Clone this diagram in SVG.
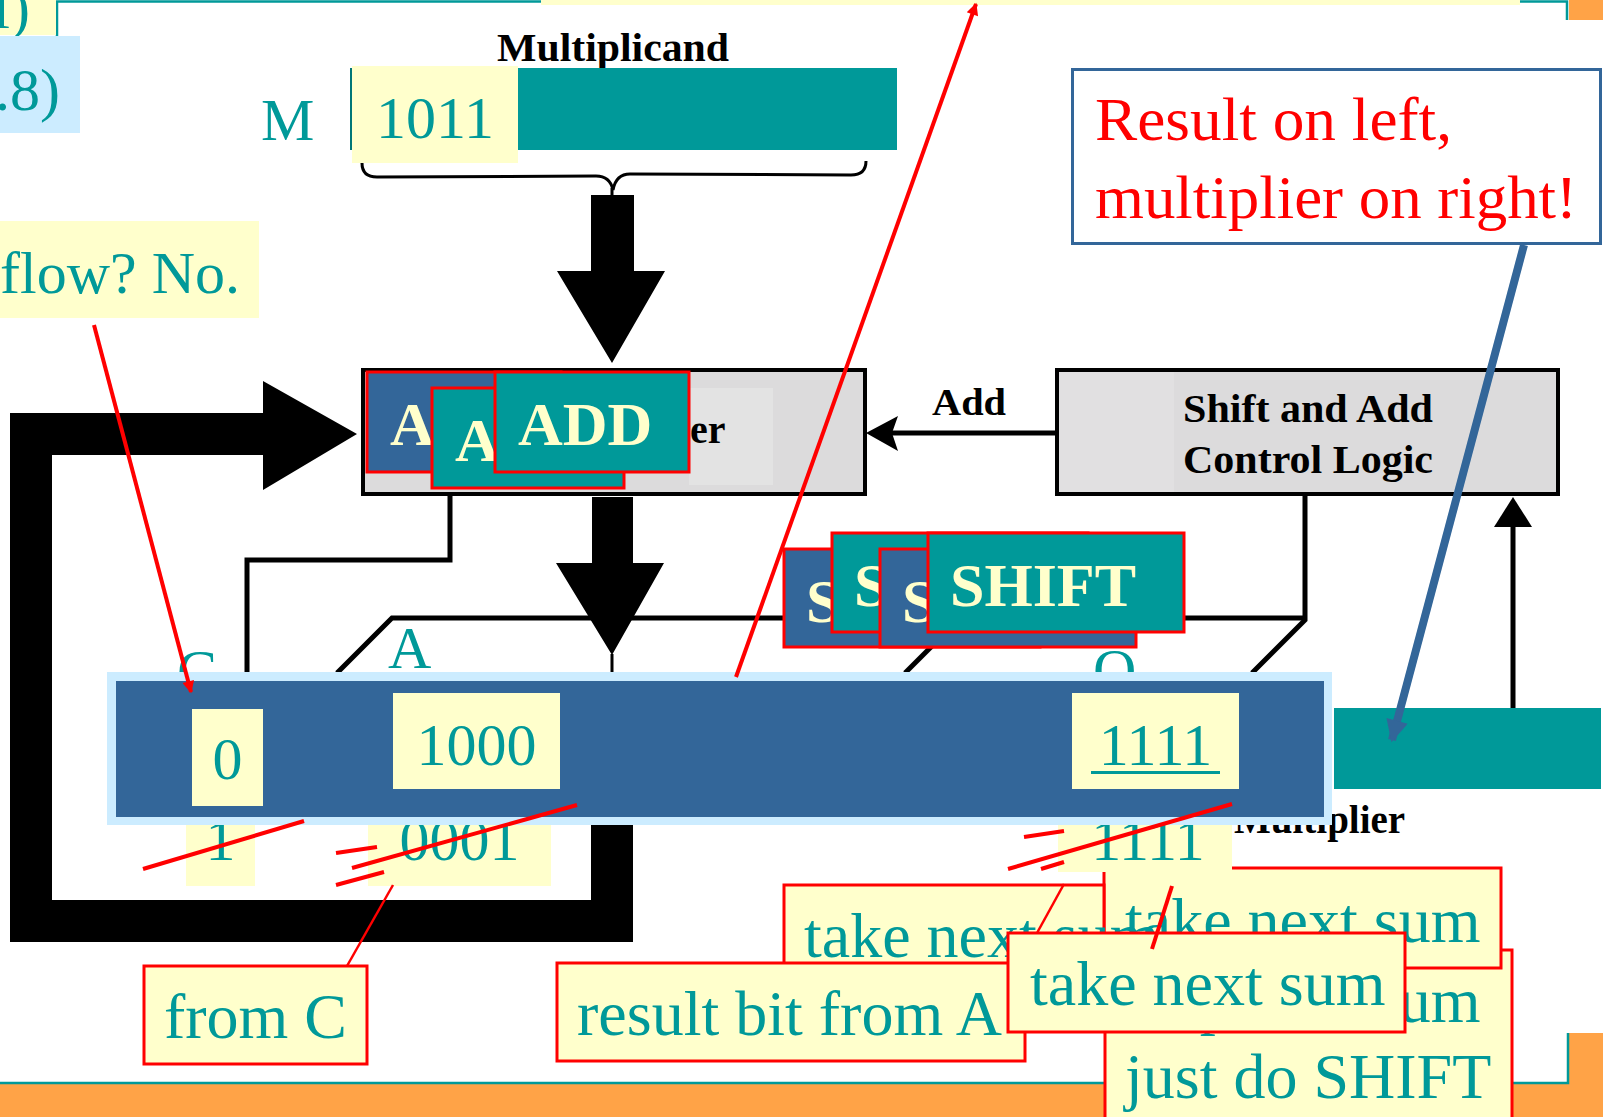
<svg xmlns="http://www.w3.org/2000/svg" width="1603" height="1117" viewBox="0 0 1603 1117">
<style>
.s{font-family:"Liberation Serif","Times New Roman",serif}
.tl{fill:#009999}
.f60{font-size:60px}
.f64{font-size:64px}
.bk{fill:#000;font-weight:bold}
.bt{fill:#FFFFCC;font-weight:bold;font-size:62px}
.y{fill:#FFFFCC}
.cb{fill:#FFFFCC;stroke:#FF0000;stroke-width:3}
.tb{fill:#009999;stroke:#FF0000;stroke-width:3}
.ub{fill:#336699;stroke:#FF0000;stroke-width:3}
.gb{fill:#DCDBDC;stroke:#000;stroke-width:4}
.thin{fill:none;stroke:#000;stroke-width:5}
.red{fill:none;stroke:#FF0000;stroke-width:4}
.red2{fill:none;stroke:#FF0000;stroke-width:2.5}
</style>
<defs>
<marker id="ar" viewBox="0 0 10 10" refX="9" refY="5" markerWidth="16" markerHeight="12" markerUnits="userSpaceOnUse" orient="auto"><path d="M0,0L10,5L0,10z" fill="#FF0000"/></marker>
<marker id="ab" viewBox="0 0 10 10" refX="9" refY="5" markerWidth="26" markerHeight="22" markerUnits="userSpaceOnUse" orient="auto"><path d="M0,0L10,5L0,10z" fill="#336699"/></marker>
</defs>
<rect width="1603" height="1117" fill="#FFFFFF"/>
<g id="frame">
<rect x="0" y="1084" width="1603" height="33" fill="#FFA347"/>
<rect x="1568" y="1033" width="35" height="84" fill="#FFA347"/>
<rect x="1569" y="0" width="34" height="20" fill="#FFA347"/>
<path d="M0,1083H1568V1033M57,36V1.5H1567V20" fill="none" stroke="#009999" stroke-width="2.5"/>
<rect x="541" y="0" width="979" height="5" class="y"/>
</g>
<g id="note-topleft">
<rect x="0" y="0" width="56" height="35" class="y"/>
<text x="30" y="28" class="s tl f60" text-anchor="end">l)</text>
</g>
<g id="note-ref">
<rect x="0" y="36" width="80" height="97" fill="#CCECFF"/>
<text x="60" y="110" class="s tl f60" text-anchor="end">.8)</text>
</g>
<g id="note-overflow">
<rect x="0" y="221" width="259" height="97" class="y"/>
<text x="240" y="293" class="s tl f60" text-anchor="end">flow? No.</text>
</g>
<g id="multiplicand">
<text x="497" y="61" class="s bk" font-size="40" textLength="232" lengthAdjust="spacingAndGlyphs">Multiplicand</text>
<text x="261" y="140" class="s tl f60">M</text>
<rect x="351" y="68" width="546" height="82" fill="#009999"/>
<line x1="351" y1="68" x2="351" y2="150" stroke="#007777" stroke-width="2"/>
<rect x="352" y="66" width="166" height="97" class="y"/>
<text x="435" y="138" class="s tl f60" text-anchor="middle">1011</text>
<path d="M362,163Q362,177 377,177L596,176Q610,176 613,190Q616,174 630,174L851,175Q866,175 866,161" fill="none" stroke="#000" stroke-width="3"/>
</g>
<g id="adder">
<rect x="363" y="370" width="502" height="124" class="gb"/>
<rect x="689" y="388" width="84" height="97" fill="#E3E3E3"/>
<text x="690" y="443" class="s bk" font-size="40">er</text>
</g>
<g id="control">
<rect x="1057" y="370" width="501" height="124" class="gb"/>
<rect x="1059" y="372" width="115" height="120" fill="#E1E0E1"/>
<text x="1183" y="422" class="s bk" font-size="40" textLength="250" lengthAdjust="spacingAndGlyphs">Shift and Add</text>
<text x="1183" y="473" class="s bk" font-size="40" textLength="250" lengthAdjust="spacingAndGlyphs">Control Logic</text>
</g>
<g id="connectors">
<path d="M591,810H633V942H10V413H263V381L357,434L263,490V455H52V900H591Z" fill="#000"/>
<path d="M591,195H634V271H665L612,363L557,271H591Z" fill="#000"/>
<line x1="612" y1="188" x2="612" y2="196" stroke="#000" stroke-width="3"/>
<path d="M592,497H633V563H664L612,655L556,563H592Z" fill="#000"/>
<line x1="612" y1="654" x2="612" y2="673" stroke="#000" stroke-width="3"/>
<path d="M450,496V560H247V673" class="thin"/>
<path d="M337,673L392,618H1305" class="thin"/>
<path d="M1305,496V620L1252,673" class="thin"/>
<path d="M905,673L960,618" class="thin"/>
<path d="M1055,433H892" class="thin"/>
<path d="M866,433L898,416L892,433L898,451Z" fill="#000"/>
<text x="932" y="415" class="s bk" font-size="38" textLength="74" lengthAdjust="spacingAndGlyphs">Add</text>
<path d="M1513,708V525" class="thin"/>
<path d="M1513,497L1532,527H1494Z" fill="#000"/>
</g>
<g id="labels">
<text x="388" y="668" class="s tl f60">A</text>
<text x="177" y="691" class="s tl f60">C</text>
<text x="1093" y="690" class="s tl f60">Q</text>
<text x="1234" y="833" class="s bk" font-size="39">Multiplier</text>
<rect x="1334" y="708" width="267" height="81" fill="#009999"/>
</g>
<g id="callout-skip">
<rect x="1105" y="950" width="407" height="180" class="cb"/>
<text x="1125" y="1022" class="s tl f64">skip next sum</text>
<text x="1125" y="1098" class="s tl f64">just do SHIFT</text>
</g>
<g id="callout-take2">
<rect x="1104" y="868" width="397" height="100" class="cb"/>
<text x="1125" y="942" class="s tl f64">take next sum</text>
</g>
<g id="callout-take1">
<rect x="784" y="885" width="320" height="100" class="cb"/>
<text x="804" y="957" class="s tl f64">take next sum</text>
</g>
<g id="callout-result">
<rect x="557" y="963" width="468" height="98" class="cb"/>
<text x="577" y="1035" class="s tl f64">result bit from A</text>
</g>
<g id="callout-take3">
<rect x="1008" y="933" width="397" height="99" class="cb"/>
<text x="1030" y="1005" class="s tl f64">take next sum</text>
</g>
<g id="old-values">
<rect x="186" y="790" width="69" height="96" class="y"/>
<text x="220.5" y="860" class="s tl f60" text-anchor="middle">1</text>
<rect x="368" y="790" width="183" height="96" class="y"/>
<text x="459.5" y="860" class="s tl f60" text-anchor="middle">0001</text>
<rect x="1058" y="790" width="174" height="82" class="y"/>
<text x="1148" y="860" class="s tl f60" text-anchor="middle">1111</text>
</g>
<g id="register">
<rect x="107" y="672" width="1225" height="153" fill="#CCECFF"/>
<rect x="116" y="681" width="1208" height="136" fill="#336699"/>
<rect x="192" y="709" width="71" height="97" class="y"/>
<text x="227.5" y="779" class="s tl f60" text-anchor="middle">0</text>
<rect x="393" y="693" width="167" height="96" class="y"/>
<text x="476.5" y="765" class="s tl f60" text-anchor="middle">1000</text>
<rect x="1072" y="693" width="167" height="96" class="y"/>
<text x="1155.5" y="765" class="s tl f60" text-anchor="middle">1111</text>
<rect x="1091" y="771" width="129" height="3" fill="#009999"/>
</g>
<g id="add-steps">
<rect x="367" y="372" width="194" height="100" class="ub"/>
<text x="390" y="445" class="s bt">A</text>
<rect x="432" y="388" width="192" height="100" class="tb"/>
<text x="455" y="461" class="s bt">A</text>
<rect x="495" y="372" width="194" height="100" class="tb"/>
<text x="518" y="445" class="s bt">ADD</text>
</g>
<g id="shift-steps">
<rect x="784" y="549" width="256" height="98" class="ub"/>
<text x="806" y="622" class="s bt">S</text>
<rect x="832" y="533" width="256" height="99" class="tb"/>
<text x="854" y="606" class="s bt">S</text>
<rect x="880" y="549" width="256" height="98" class="ub"/>
<text x="902" y="622" class="s bt">S</text>
<rect x="928" y="533" width="256" height="99" class="tb"/>
<text x="950" y="606" class="s bt">SHIFT</text>
</g>
<g id="annotations">
<line x1="143" y1="869" x2="304" y2="821" class="red"/>
<line x1="352" y1="868" x2="577" y2="805" class="red"/>
<line x1="336" y1="853" x2="377" y2="847" class="red"/>
<line x1="336" y1="885" x2="384" y2="872" class="red"/>
<line x1="1008" y1="869" x2="1232" y2="804" class="red"/>
<line x1="1024" y1="837" x2="1064" y2="831" class="red"/>
<line x1="1041" y1="869" x2="1064" y2="862" class="red"/>
<line x1="1064" y1="884" x2="1037" y2="933" class="red2"/>
<line x1="1172" y1="886" x2="1152" y2="949" class="red" stroke-width="3"/>
<line x1="94" y1="325" x2="191" y2="692" class="red" stroke-width="4.5" marker-end="url(#ar)"/>
<line x1="736" y1="677" x2="976" y2="4" class="red" stroke-width="3.5" marker-end="url(#ar)"/>
</g>
<g id="note-result">
<rect x="1072.5" y="69.5" width="528" height="174" fill="#FFFFFF" stroke="#336699" stroke-width="3"/>
<text x="1095" y="140" class="s" font-size="61" fill="#FF0000" textLength="357" lengthAdjust="spacingAndGlyphs">Result on left,</text>
<text x="1095" y="218" class="s" font-size="61" fill="#FF0000" textLength="482" lengthAdjust="spacingAndGlyphs">multiplier on right!</text>
</g>
<g id="note-result-arrow">
<line x1="1524" y1="245" x2="1392" y2="740" stroke="#336699" stroke-width="8" marker-end="url(#ab)"/>
</g>
<g id="callout-fromC">
<line x1="347" y1="966" x2="393" y2="885" class="red2"/>
<rect x="144" y="966" width="223" height="98" class="cb"/>
<text x="255.5" y="1038" class="s tl f64" text-anchor="middle">from C</text>
</g>
</svg>
